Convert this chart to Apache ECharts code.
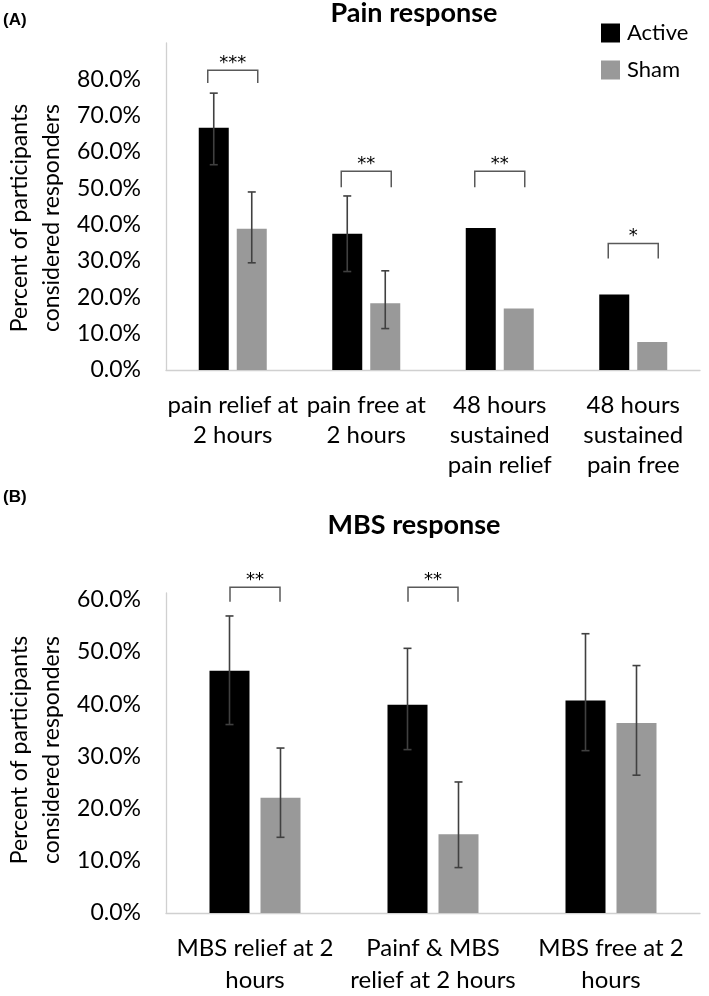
<!DOCTYPE html>
<html>
<head>
<meta charset="utf-8">
<script src="https://cdn.jsdelivr.net/npm/echarts@6/dist/echarts.min.js"></script>
<style>html,body{margin:0;padding:0;background:#fff}#c{width:709px;height:996px}</style>
</head>
<body>
<div id="c"></div>
<script>
// ---- Panel A data ----
const catsA = ['pain relief at\n2 hours', 'pain free at\n2 hours', '48 hours\nsustained\npain relief', '48 hours\nsustained\npain free'];
const activeA = [0.667, 0.375, 0.391, 0.208];
const shamA = [0.389, 0.184, 0.169, 0.077];
const activeErrA = [[0.565, 0.762], [0.271, 0.479], null, null];
const shamErrA = [[0.295, 0.490], [0.114, 0.273], null, null];
const bracketsA = [[0, 0.825, 0.79, '***'], [1, 0.547, 0.503, '**'], [2, 0.547, 0.503, '**'], [3, 0.348, 0.307, '*']];
const ticksA = ['0.0%', '10.0%', '20.0%', '30.0%', '40.0%', '50.0%', '60.0%', '70.0%', '80.0%'];

// ---- Panel B data ----
const catsB = ['MBS relief at 2\nhours', 'Painf & MBS\nrelief at 2 hours', 'MBS free at 2\nhours'];
const activeB = [0.464, 0.399, 0.407];
const shamB = [0.221, 0.151, 0.364];
const activeErrB = [[0.361, 0.569], [0.313, 0.507], [0.311, 0.535]];
const shamErrB = [[0.145, 0.316], [0.087, 0.251], [0.264, 0.474]];
const bracketsB = [[0, 0.624, 0.596, '**'], [1, 0.624, 0.596, '**']];
const ticksB = ['0.0%', '10.0%', '20.0%', '30.0%', '40.0%', '50.0%', '60.0%'];

const yTitle = 'Percent of participants\nconsidered responders';
const FONT = 'Lato';
const barWA = 30, gapA = 8, barWB = 40, gapB = 11;

function errData(arr) {
  const out = [];
  arr.forEach((e, i) => { if (e) out.push([i, e[0], e[1]]); });
  return out;
}
function errRender(offset) {
  return function (params, api) {
    const i = api.value(0);
    const pHi = api.coord([i, api.value(2)]);
    const pLo = api.coord([i, api.value(1)]);
    const cx = pHi[0] + offset;
    const st = { stroke: '#404040', lineWidth: 1.6 };
    return {
      type: 'group', children: [
        { type: 'line', shape: { x1: cx, y1: pHi[1], x2: cx, y2: pLo[1] }, style: st },
        { type: 'line', shape: { x1: cx - 4, y1: pHi[1], x2: cx + 4, y2: pHi[1] }, style: st },
        { type: 'line', shape: { x1: cx - 4, y1: pLo[1], x2: cx + 4, y2: pLo[1] }, style: st }
      ]
    };
  };
}
const bracketsAll = { bA: bracketsA, bB: bracketsB };
function bracketRender(half) {
  return function (params, api) {
    const i = api.value(0);
    const pTop = api.coord([i, api.value(1)]);
    const pLeg = api.coord([i, api.value(2)]);
    const cx = pTop[0];
    const lab = bracketsAll[params.seriesName][params.dataIndex][3];
    return {
      type: 'group', children: [
        { type: 'polyline', shape: { points: [[cx - half, pLeg[1]], [cx - half, pTop[1]], [cx + half, pTop[1]], [cx + half, pLeg[1]]] },
          style: { stroke: '#595959', lineWidth: 1.5, fill: null } },
        { type: 'text', x: cx, y: pTop[1] + 2, style: { text: lab, align: 'center', verticalAlign: 'bottom', font: '18px "DejaVu Sans"', fill: '#000' } }
      ]
    };
  };
}

const axisLineStyle = { color: '#d0d0d0', width: 1.3 };
const chart = echarts.init(document.getElementById('c'));
chart.setOption({
  animation: false,
  graphic: [
    { type: 'text', x: 3, y: 20, style: { text: '(A)', font: 'bold 17px "Liberation Sans"', fill: '#000', verticalAlign: 'middle' } },
    { type: 'text', x: 414, y: 13, style: { text: 'Pain response', font: 'bold 27px ' + FONT, fill: '#000', align: 'center', verticalAlign: 'middle' } },
    { type: 'text', x: 3, y: 497, style: { text: '(B)', font: 'bold 17px "Liberation Sans"', fill: '#000', verticalAlign: 'middle' } },
    { type: 'text', x: 414, y: 525, style: { text: 'MBS response', font: 'bold 27px ' + FONT, fill: '#000', align: 'center', verticalAlign: 'middle' } },
    { type: 'text', x: 36, y: 218, rotation: Math.PI / 2, style: { text: yTitle, font: '23px ' + FONT, lineHeight: 32, fill: '#000', align: 'center', verticalAlign: 'middle' } },
    { type: 'text', x: 36, y: 750, rotation: Math.PI / 2, style: { text: yTitle, font: '23px ' + FONT, lineHeight: 32, fill: '#000', align: 'center', verticalAlign: 'middle' } }
  ],
  legend: {
    data: ['Active', 'Sham'], orient: 'vertical', left: 596, top: 17,
    itemWidth: 19, itemHeight: 19, itemGap: 15, icon: 'rect',
    textStyle: { fontFamily: FONT, fontSize: 22, color: '#000', padding: [0, 0, 0, 2] }
  },
  grid: [
    { left: 166, right: 9, top: 43, bottom: 626 },
    { left: 166, right: 9, top: 593, bottom: 77 }
  ],
  xAxis: [
    { type: 'category', gridIndex: 0, data: catsA, axisTick: { show: false }, axisLine: { lineStyle: axisLineStyle },
      axisLabel: { fontFamily: FONT, fontSize: 24, color: '#000', lineHeight: 30, margin: 20, interval: 0 } },
    { type: 'category', gridIndex: 1, data: catsB, axisTick: { show: false }, axisLine: { lineStyle: axisLineStyle },
      axisLabel: { fontFamily: FONT, fontSize: 24, color: '#000', lineHeight: 32, margin: 19, interval: 0 } }
  ],
  yAxis: [
    { type: 'value', gridIndex: 0, min: 0, max: 0.9, interval: 0.1, splitLine: { show: false },
      axisLine: { show: true, lineStyle: axisLineStyle }, axisTick: { show: false },
      axisLabel: { fontFamily: FONT, fontSize: 23, color: '#000', margin: 25, showMaxLabel: false,
        formatter: v => ticksA[Math.round(v * 10)] || '' } },
    { type: 'value', gridIndex: 1, min: 0, max: 0.613, interval: 0.1, splitLine: { show: false },
      axisLine: { show: true, lineStyle: axisLineStyle }, axisTick: { show: false },
      axisLabel: { fontFamily: FONT, fontSize: 23, color: '#000', margin: 25, showMaxLabel: false,
        formatter: v => ticksB[Math.round(v * 10)] || '' } }
  ],
  series: [
    { name: 'Active', type: 'bar', xAxisIndex: 0, yAxisIndex: 0, data: activeA, barWidth: barWA, barGap: (gapA / barWA * 100) + '%', itemStyle: { color: '#000' } },
    { name: 'Sham', type: 'bar', xAxisIndex: 0, yAxisIndex: 0, data: shamA, barWidth: barWA, itemStyle: { color: '#999999' } },
    { name: 'Active', type: 'bar', xAxisIndex: 1, yAxisIndex: 1, data: activeB, barWidth: barWB, barGap: (gapB / barWB * 100) + '%', itemStyle: { color: '#000' } },
    { name: 'Sham', type: 'bar', xAxisIndex: 1, yAxisIndex: 1, data: shamB, barWidth: barWB, itemStyle: { color: '#999999' } },
    { name: 'errA1', type: 'custom', xAxisIndex: 0, yAxisIndex: 0, data: errData(activeErrA), renderItem: errRender(-(barWA + gapA) / 2), encode: { x: 0, y: [1, 2] }, z: 5 },
    { name: 'errA2', type: 'custom', xAxisIndex: 0, yAxisIndex: 0, data: errData(shamErrA), renderItem: errRender((barWA + gapA) / 2), encode: { x: 0, y: [1, 2] }, z: 5 },
    { name: 'errB1', type: 'custom', xAxisIndex: 1, yAxisIndex: 1, data: errData(activeErrB), renderItem: errRender(-(barWB + gapB) / 2), encode: { x: 0, y: [1, 2] }, z: 5 },
    { name: 'errB2', type: 'custom', xAxisIndex: 1, yAxisIndex: 1, data: errData(shamErrB), renderItem: errRender((barWB + gapB) / 2), encode: { x: 0, y: [1, 2] }, z: 5 },
    { name: 'bA', type: 'custom', xAxisIndex: 0, yAxisIndex: 0, data: bracketsA.map(b => [b[0], b[1], b[2]]), renderItem: bracketRender(25), clip: false, z: 5 },
    { name: 'bB', type: 'custom', xAxisIndex: 1, yAxisIndex: 1, data: bracketsB.map(b => [b[0], b[1], b[2]]), renderItem: bracketRender(25), clip: false, z: 5 }
  ]
});
</script>
</body>
</html>
